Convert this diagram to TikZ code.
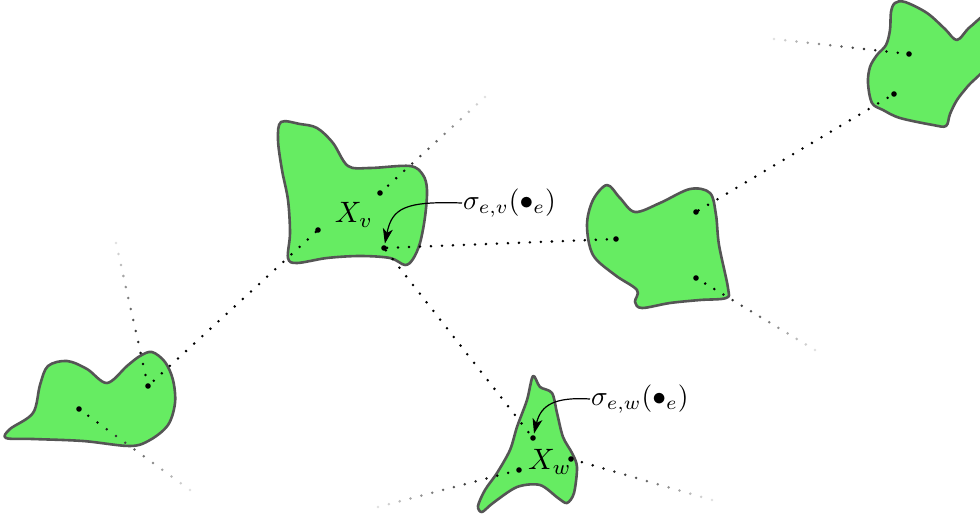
\documentclass[tikz,border=0pt]{standalone}
\usetikzlibrary{calc,arrows.meta}
\definecolor{blobgreen}{RGB}{102,236,98}
\definecolor{blobedge}{RGB}{85,85,85}
\tikzset{
  blob/.style={fill=blobgreen,draw=blobedge,line width=2.6pt,line join=round},
  conn/.style={line width=2.8pt,dash pattern=on 0pt off 11pt,line cap=round},
  bigdot/.style={circle,fill=black,inner sep=0pt,minimum size=5.6pt},
  arr/.style={line width=1.2pt,-{Stealth[length=15pt,width=10pt,inset=4pt]},shorten >=1.5pt},
  lab/.style={inner sep=1pt}
}
\newcommand\bigmath[2]{\scalebox{#1}{$#2$}}
\newcommand\fadeline[3]{%
  \foreach \i in {1,...,#3}{%
    \pgfmathsetmacro\tt{\i/#3}%
    \pgfmathtruncatemacro\shd{100-88*max(0,(\tt-0.15)/0.85)}%
    \fill[black!\shd] ($(#1)!\tt!(#2)$) circle (1.4pt);
  }}
\begin{document}
\begin{tikzpicture}[x=1pt,y=-1pt]
\clip (0,0) rectangle (980,519);
\fill[white] (0,0) rectangle (980,519);
% blobs
\path[blob] plot[smooth cycle,tension=0.55] coordinates {(281,122) (300,124) (317,128) (333,143) (348,166) (370,168) (410,166) (423,175) (427,190) (425,217) (420,243) (413,259) (405,265) (390,258) (360,256) (327,258) (297,263) (288,258) (290,233) (288,200) (282,170) (278,140)};
\path[blob] plot[smooth cycle,tension=0.55] coordinates {(607,185) (620,198) (635,212) (660,203) (690,189) (710,193) (716,215) (719,245) (728,288) (726,298) (700,300) (670,303) (642,308) (635,302) (637,290) (615,275) (593,255) (587,225) (593,200)};
\path[blob] plot[smooth cycle,tension=0.55] coordinates {(895,3) (905,2) (927,13) (945,29) (957,40) (970,27) (990,15) (990,60) (968,86) (957,100) (950,114) (946,126) (933,125) (900,118) (883,110) (872,103) (868,83) (870,67) (877,55) (886,45) (890,30) (891,12)};
\path[blob] plot[smooth cycle,tension=0.55] coordinates {(140,356) (152,352) (165,362) (173,380) (175,403) (168,425) (150,440) (130,446) (83,441) (33,439) (6,438) (10,429) (33,413) (40,385) (48,366) (67,361) (87,369) (107,383) (127,366)};
\path[blob] plot[smooth cycle,tension=0.5] coordinates {(533,376) (540,387) (552,393) (557,413) (563,437) (572,453) (577,467) (574,493) (567,503) (558,498) (540,485) (517,487) (493,503) (482,512) (478,506) (485,490) (497,473) (510,450) (517,427) (527,400)};
% dots
\node[bigdot] (a1) at (380,193) {};
\node[bigdot] (a2) at (318,230) {};
\node[bigdot] (a3) at (384,248) {};
\node[bigdot] (b1) at (616,239) {};
\node[bigdot] (b2) at (696,212) {};
\node[bigdot] (b3) at (696,278) {};
\node[bigdot] (c1) at (909,54) {};
\node[bigdot] (c2) at (894,94) {};
\node[bigdot] (d1) at (148,386) {};
\node[bigdot] (d2) at (79,409) {};
\node[bigdot] (e1) at (533,438) {};
\node[bigdot] (e2) at (519,470) {};
\node[bigdot] (e3) at (571,459) {};
% free ends
\coordinate (fa1) at (485,97);
\coordinate (fb3) at (815,350);
\coordinate (fc1) at (774,39);
\coordinate (fd1) at (116,243);
\coordinate (fd2) at (190,490);
\coordinate (fe2) at (378,507);
\coordinate (fe3) at (712,500);
% connectors
\draw[conn] (a2) -- (d1);
\draw[conn] (a3) -- (b1);
\draw[conn] (a3) -- (e1);
\draw[conn] (b2) -- (c2);
\fadeline{a1}{fa1}{13}
\fadeline{b3}{fb3}{13}
\fadeline{c1}{fc1}{12}
\fadeline{d1}{fd1}{13}
\fadeline{d2}{fd2}{12}
\fadeline{e2}{fe2}{13}
\fadeline{e3}{fe3}{13}
% labels
\node[lab] (xv) at (354,215) {\bigmath{2.95}{X_v}};
\node[lab] (xw) at (550,462) {\bigmath{2.95}{X_w}};
\node[lab,anchor=west] (sv) at (462,203) {\bigmath{2.75}{\sigma_{e,v}(\bullet_e)}};
\node[lab,anchor=west] (sw) at (590,399) {\bigmath{2.75}{\sigma_{e,w}(\bullet_e)}};
\draw[arr] (sv.west) .. controls (405,201) and (392,208) .. (a3);
\draw[arr] (sw.west) .. controls (556,397) and (541,404) .. (e1);
\end{tikzpicture}
\end{document}
